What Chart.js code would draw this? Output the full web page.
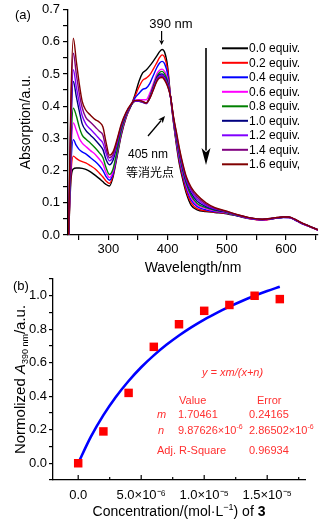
<!DOCTYPE html>
<html><head><meta charset="utf-8">
<script src="https://cdn.jsdelivr.net/npm/chart.js@4.4.1/dist/chart.umd.min.js"></script>
<style>
html,body{margin:0;padding:0;background:#fff;}
#wrap{position:relative;width:326px;height:526px;overflow:hidden;background:#fff;}
canvas{position:absolute;left:0;}
#ca{top:0;width:326px;height:280px;}
#cb{top:262px;width:326px;height:264px;}
</style></head><body>
<div id="wrap"><canvas id="ca" width="326" height="280"></canvas><canvas id="cb" width="326" height="264"></canvas></div>
<script>
// ---------- Panel (a) data ----------
const wavelengths = [233,237,241,246,251,256,262,270,278,285,291,296,302,308,315,322,330,338,345,352,358,364,370,376,382,387,391,395,400,405,410,415,420,426,432,440,450,465,480,500,520,540,560,580,595,605,615,625,640,654];
const abs00 = [0,0.17,0.205,0.208,0.208,0.207,0.204,0.196,0.185,0.175,0.165,0.157,0.152,0.18,0.245,0.31,0.365,0.40,0.435,0.478,0.503,0.512,0.525,0.54,0.556,0.57,0.576,0.568,0.525,0.43,0.35,0.28,0.22,0.17,0.128,0.092,0.078,0.073,0.07,0.066,0.058,0.05,0.047,0.052,0.055,0.054,0.047,0.037,0.026,0.015];
const abs02 = [0,0.19,0.245,0.238,0.232,0.228,0.224,0.215,0.205,0.192,0.18,0.168,0.16,0.185,0.25,0.315,0.365,0.40,0.43,0.46,0.48,0.487,0.497,0.515,0.535,0.552,0.559,0.552,0.515,0.43,0.352,0.285,0.228,0.178,0.135,0.1,0.082,0.075,0.071,0.067,0.059,0.05,0.046,0.051,0.055,0.055,0.048,0.038,0.026,0.015];
const abs04 = [0,0.22,0.296,0.278,0.265,0.258,0.252,0.24,0.228,0.215,0.2,0.182,0.17,0.19,0.252,0.318,0.368,0.40,0.425,0.44,0.452,0.456,0.47,0.495,0.52,0.535,0.539,0.532,0.5,0.43,0.355,0.29,0.235,0.185,0.145,0.108,0.088,0.078,0.073,0.068,0.059,0.051,0.047,0.051,0.054,0.054,0.047,0.037,0.026,0.015];
const abs06 = [0,0.25,0.348,0.325,0.3,0.285,0.275,0.262,0.25,0.235,0.22,0.195,0.178,0.198,0.258,0.322,0.37,0.40,0.418,0.42,0.42,0.42,0.44,0.47,0.5,0.512,0.515,0.508,0.485,0.43,0.358,0.295,0.242,0.192,0.152,0.115,0.093,0.082,0.075,0.069,0.06,0.051,0.047,0.052,0.055,0.054,0.047,0.037,0.026,0.015];
const abs08 = [0,0.28,0.394,0.37,0.335,0.31,0.298,0.285,0.27,0.255,0.24,0.21,0.188,0.205,0.262,0.326,0.372,0.40,0.415,0.415,0.413,0.41,0.43,0.462,0.492,0.505,0.508,0.5,0.478,0.43,0.36,0.30,0.248,0.198,0.158,0.122,0.098,0.085,0.077,0.07,0.06,0.052,0.048,0.052,0.055,0.055,0.048,0.038,0.027,0.016];
const abs10 = [0,0.33,0.477,0.43,0.385,0.345,0.325,0.31,0.295,0.28,0.265,0.235,0.218,0.232,0.28,0.335,0.375,0.402,0.415,0.415,0.412,0.408,0.427,0.458,0.487,0.499,0.50,0.492,0.472,0.43,0.362,0.305,0.255,0.205,0.165,0.13,0.105,0.088,0.079,0.071,0.061,0.052,0.048,0.052,0.055,0.055,0.048,0.038,0.027,0.016];
const abs12 = [0,0.36,0.513,0.46,0.41,0.37,0.345,0.328,0.313,0.298,0.285,0.255,0.23,0.242,0.287,0.338,0.377,0.403,0.416,0.416,0.413,0.408,0.426,0.455,0.484,0.495,0.496,0.488,0.468,0.43,0.364,0.31,0.26,0.21,0.17,0.137,0.112,0.092,0.081,0.072,0.061,0.052,0.048,0.052,0.055,0.055,0.048,0.038,0.027,0.016];
const abs14 = [0,0.40,0.564,0.50,0.44,0.395,0.365,0.35,0.335,0.322,0.31,0.27,0.24,0.25,0.293,0.341,0.379,0.404,0.417,0.417,0.414,0.409,0.425,0.452,0.48,0.491,0.492,0.484,0.465,0.43,0.366,0.315,0.265,0.215,0.175,0.142,0.118,0.096,0.083,0.073,0.062,0.053,0.049,0.053,0.056,0.056,0.049,0.039,0.027,0.016];
const abs16 = [0,0.43,0.611,0.54,0.47,0.415,0.388,0.372,0.358,0.35,0.335,0.29,0.248,0.258,0.298,0.345,0.381,0.405,0.418,0.418,0.415,0.41,0.424,0.45,0.477,0.488,0.489,0.481,0.462,0.43,0.368,0.32,0.27,0.22,0.18,0.148,0.124,0.10,0.085,0.074,0.062,0.053,0.049,0.053,0.056,0.056,0.049,0.039,0.027,0.016];
const seriesLabels = ['0.0 equiv.','0.2 equiv.','0.4 equiv.','0.6 equiv.','0.8 equiv.','1.0 equiv.','1.2 equiv.','1.4 equiv.','1.6 equiv,'];
const seriesColors = ['#000000','#ff0000','#0000ff','#ff00ff','#008000','#000080','#8000ff','#800080','#800000'];
const seriesValues = [abs00,abs02,abs04,abs06,abs08,abs10,abs12,abs14,abs16];
const wlTickValues = [250,300,350,400,450,500,550,600,650];
const wlTickLabels = ['','300','','400','','500','','600',''];
const absTickValues = [0,0.05,0.1,0.15,0.2,0.25,0.3,0.35,0.4,0.45,0.5,0.55,0.6,0.65,0.7];
const absTickLabels = ['0.0','','0.1','','0.2','','0.3','','0.4','','0.5','','0.6','','0.7'];

// ---------- Panel (b) data ----------
const concentrations = [0,2e-6,4e-6,6e-6,8e-6,1e-5,1.2e-5,1.4e-5,1.6e-5];
const normA390 = [0,0.19,0.42,0.695,0.83,0.91,0.945,1.0,0.98];
const fitConc = [0,1e-6,2e-6,3e-6,4e-6,5e-6,6e-6,7e-6,8e-6,9e-6,1e-5,1.1e-5,1.2e-5,1.3e-5,1.4e-5,1.5e-5,1.6e-5];
const fitA390 = [0,0.157,0.287,0.397,0.491,0.573,0.644,0.707,0.763,0.813,0.858,0.898,0.935,0.969,1.0,1.028,1.054];
const concTickValues = [0,2.5e-6,5e-6,7.5e-6,1e-5,1.25e-5,1.5e-5,1.75e-5];
const concTickLabels = ['0.0','','5.0×10⁻⁶','','1.0×10⁻⁵','','1.5×10⁻⁵',''];
const normTickValues = [-0.1,0,0.1,0.2,0.3,0.4,0.5,0.6,0.7,0.8,0.9,1.0,1.1];
const normTickLabels = ['','0.0','','0.2','','0.4','','0.6','','0.8','','1.0',''];

const FF = '"Liberation Sans", Arial, sans-serif';
Chart.defaults.font.family = FF;
Chart.defaults.color = '#000';

function labelFrom(values, labels, v){
  for (let i=0;i<values.length;i++){ if (Math.abs(values[i]-v) < 1e-9*Math.max(1,Math.abs(v))+1e-12) return labels[i]; }
  return '';
}
function arrow(ctx,x1,y1,x2,y2,lw,hw,hl){
  const a=Math.atan2(y2-y1,x2-x1);
  const bx=x2-hl*Math.cos(a), by=y2-hl*Math.sin(a);
  ctx.lineWidth=lw; ctx.beginPath(); ctx.moveTo(x1,y1); ctx.lineTo(bx+0.5*Math.cos(a)*hl*0.3,by+0.5*Math.sin(a)*hl*0.3); ctx.stroke();
  ctx.beginPath(); ctx.moveTo(x2,y2);
  ctx.lineTo(bx+hw*Math.sin(a), by-hw*Math.cos(a));
  ctx.lineTo(bx+0.25*hl*Math.cos(a), by+0.25*hl*Math.sin(a));
  ctx.lineTo(bx-hw*Math.sin(a), by+hw*Math.cos(a));
  ctx.closePath(); ctx.fill();
}
function drawRuns(ctx, runs, x, y, align){
  let total=0;
  runs.forEach(r=>{ctx.font=r.f; r.w=ctx.measureText(r.t).width; total+=r.w;});
  let cx = align==='center' ? x-total/2 : x;
  ctx.textAlign='left';
  runs.forEach(r=>{ctx.font=r.f; ctx.fillText(r.t,cx,y+(r.dy||0)); cx+=r.w;});
}

const annoA = {
  id:'annoA',
  afterDraw(chart){
    const ctx=chart.ctx, xs=chart.scales.x;
    ctx.save();
    ctx.fillStyle='#000'; ctx.strokeStyle='#000';
    ctx.textBaseline='middle';
    ctx.textAlign='left';
    ctx.font='13px '+FF;
    ctx.fillText('(a)',15,15);
    const x390 = xs.getPixelForValue(390);
    ctx.textAlign='center';
    ctx.fillText('390 nm',171,24);
    arrow(ctx,x390,31,x390,45,1.2,2.5,5);
    ctx.textAlign='left';
    ctx.font='12px '+FF;
    ctx.fillText('405 nm',128,155);
    ctx.font='12px "Noto Sans CJK SC", sans-serif';
    ctx.fillText('等消光点',126,172);
    arrow(ctx,148,136,165,116,1.3,3,7);
    // big trend arrow
    arrow(ctx,206,48,206,165,1.6,4.5,17);
    // legend
    ctx.font='12px '+FF;
    chart.data.datasets.forEach((d,i)=>{
      const y=48.3+i*14.5;
      ctx.strokeStyle=d.borderColor; ctx.lineWidth=2;
      ctx.beginPath(); ctx.moveTo(222,y); ctx.lineTo(248,y); ctx.stroke();
      ctx.fillStyle='#000';
      ctx.fillText(d.label,249,y+0.5);
    });
    ctx.restore();
  }
};

new Chart(document.getElementById('ca'),{
  type:'line',
  data:{datasets: seriesValues.map((vals,i)=>({
    label: seriesLabels[i],
    data: wavelengths.map((w,k)=>({x:w,y:vals[k]})),
    borderColor: seriesColors[i], backgroundColor: seriesColors[i],
    borderWidth:1.4, pointRadius:0, fill:false,
    cubicInterpolationMode:'monotone',
    order: seriesValues.length-1-i
  }))},
  options:{
    responsive:false, animation:false, devicePixelRatio:1,
    layout:{padding:{left:0,right:8,top:7,bottom:0}},
    plugins:{legend:{display:false},tooltip:{enabled:false}},
    scales:{
      x:{type:'linear',min:232,max:654,
        afterBuildTicks:s=>{s.ticks=wlTickValues.map(v=>({value:v}));},
        afterFit:s=>{s.height=45;},
        grid:{drawOnChartArea:false,drawTicks:true,tickLength:5,color:'#000',lineWidth:1.2},
        border:{display:true,color:'#000',width:1.3},
        ticks:{color:'#000',font:{size:13,lineHeight:1},padding:3,maxRotation:0,autoSkip:false,
          callback:v=>labelFrom(wlTickValues,wlTickLabels,v)},
        title:{display:true,text:'Wavelength/nm',color:'#000',font:{size:14},padding:{top:0,bottom:3}}
      },
      y:{min:0,max:0.7,
        afterBuildTicks:s=>{s.ticks=absTickValues.map(v=>({value:v}));},
        afterFit:s=>{s.width=68;},
        grid:{drawOnChartArea:false,drawTicks:true,tickLength:5,color:'#000',lineWidth:1.2},
        border:{display:true,color:'#000',width:1.3},
        ticks:{color:'#000',font:{size:13,lineHeight:1},padding:3,autoSkip:false,
          callback:v=>labelFrom(absTickValues,absTickLabels,v)},
        title:{display:true,text:'Absorption/a.u.',color:'#000',font:{size:14},padding:{top:18,bottom:0}}
      }
    }
  },
  plugins:[annoA]
});

const RED='#ff3030';
const annoB = {
  id:'annoB',
  afterDraw(chart){
    const ctx=chart.ctx, xs=chart.scales.x, ca=chart.chartArea;
    ctx.save();
    // inward x ticks
    ctx.strokeStyle='#000'; ctx.lineWidth=1.2;
    xs.ticks.forEach(t=>{
      const px=xs.getPixelForValue(t.value);
      const major = labelFrom(concTickValues,concTickLabels,t.value)!=='';
      ctx.beginPath(); ctx.moveTo(px,ca.bottom); ctx.lineTo(px,ca.bottom-(major?5:3)); ctx.stroke();
    });
    ctx.fillStyle='#000';
    ctx.textBaseline='alphabetic';
    ctx.textAlign='left';
    ctx.font='13px '+FF;
    ctx.fillText('(b)',13,28);
    // y title
    ctx.save();
    ctx.translate(25,(ca.top+ca.bottom)/2);
    ctx.rotate(-Math.PI/2);
    drawRuns(ctx,[
      {t:'Normolized ',f:'15px '+FF},
      {t:'A',f:'italic 15px '+FF},
      {t:'390 nm',f:'9px '+FF,dy:3},
      {t:'/a.u.',f:'15px '+FF}
    ],0,0,'center');
    ctx.restore();
    // x title
    drawRuns(ctx,[
      {t:'Concentration/(mol·L',f:'14px '+FF},
      {t:'−1',f:'9px '+FF,dy:-6},
      {t:') of ',f:'14px '+FF},
      {t:'3',f:'bold 14px '+FF}
    ],(ca.left+ca.right)/2,254,'center');
    // fit text
    ctx.fillStyle=RED;
    const f11='11px '+FF, fi11='italic 11px '+FF, fs='7px '+FF;
    drawRuns(ctx,[{t:'y = xm/(x+n)',f:fi11}],202,114,'left');
    drawRuns(ctx,[{t:'Value',f:f11}],179,142,'left');
    drawRuns(ctx,[{t:'Error',f:f11}],257,142,'left');
    drawRuns(ctx,[{t:'m',f:fi11}],157,156,'left');
    drawRuns(ctx,[{t:'1.70461',f:f11}],178,156,'left');
    drawRuns(ctx,[{t:'0.24165',f:f11}],249,156,'left');
    drawRuns(ctx,[{t:'n',f:fi11}],158,172,'left');
    drawRuns(ctx,[{t:'9.87626×10',f:f11},{t:'-6',f:fs,dy:-5}],178,172,'left');
    drawRuns(ctx,[{t:'2.86502×10',f:f11},{t:'-6',f:fs,dy:-5}],249,172,'left');
    drawRuns(ctx,[{t:'Adj. R-Square',f:f11}],157,192,'left');
    drawRuns(ctx,[{t:'0.96934',f:f11}],249,192,'left');
    ctx.restore();
  }
};

new Chart(document.getElementById('cb'),{
  type:'scatter',
  data:{datasets:[
    {label:'data',data:concentrations.map((c,k)=>({x:c,y:normA390[k]})),
     pointStyle:'rect',pointRadius:6,pointBorderWidth:0,backgroundColor:'#ff0000',borderColor:'#ff0000',showLine:false,order:0},
    {label:'fit',data:fitConc.map((c,k)=>({x:c,y:fitA390[k]})),
     showLine:true,pointRadius:0,borderColor:'#0000ff',borderWidth:2.6,cubicInterpolationMode:'monotone',fill:false,order:1}
  ]},
  options:{
    responsive:false, animation:false, devicePixelRatio:1,
    layout:{padding:{left:0,right:21,top:17,bottom:0}},
    plugins:{legend:{display:false},tooltip:{enabled:false}},
    scales:{
      x:{type:'linear',min:-2e-6,max:1.8e-5,
        afterBuildTicks:s=>{s.ticks=concTickValues.map(v=>({value:v}));},
        afterFit:s=>{s.height=46;},
        grid:{drawOnChartArea:false,drawTicks:false,color:'#000'},
        border:{display:true,color:'#000',width:1.3},
        ticks:{color:'#000',font:{size:13,lineHeight:1},padding:9,maxRotation:0,autoSkip:false,
          callback:v=>labelFrom(concTickValues,concTickLabels,v)}
      },
      y:{min:-0.1,max:1.1,
        afterBuildTicks:s=>{s.ticks=normTickValues.map(v=>({value:v}));},
        afterFit:s=>{s.width=53;},
        grid:{drawOnChartArea:false,drawTicks:true,tickLength:4,color:'#000',lineWidth:1.2},
        border:{display:true,color:'#000',width:1.3},
        ticks:{color:'#000',font:{size:13,lineHeight:1},padding:2,autoSkip:false,
          callback:v=>labelFrom(normTickValues,normTickLabels,v)}
      }
    }
  },
  plugins:[annoB]
});
</script>
</body></html>
